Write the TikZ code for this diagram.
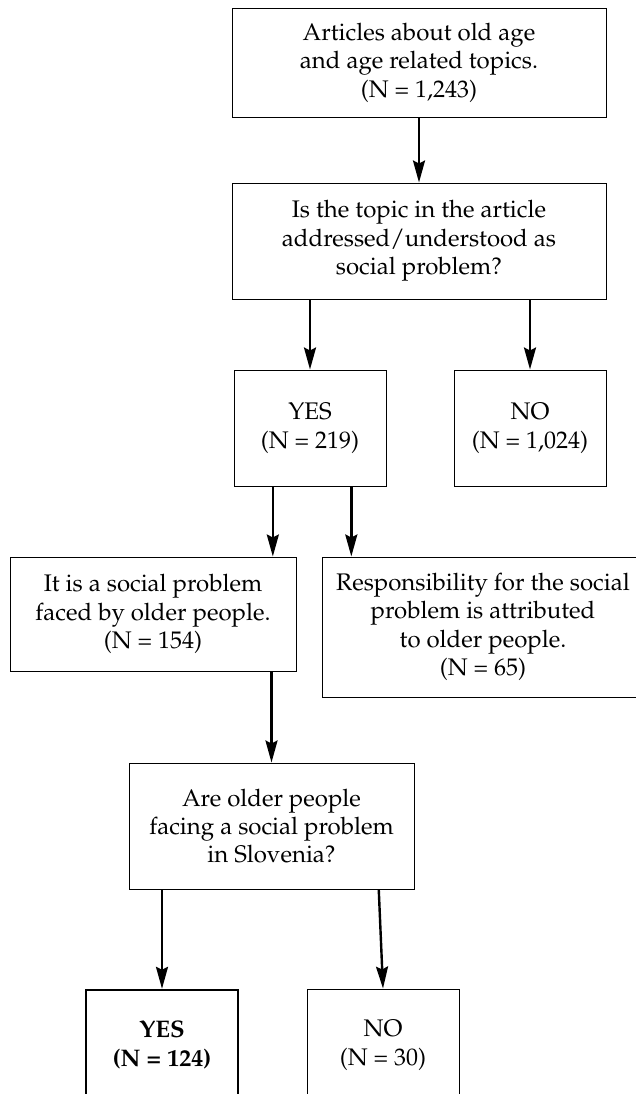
\documentclass[tikz,border=0pt]{standalone}
\usepackage[T1]{fontenc}
\usepackage{mathpazo}
\usetikzlibrary{arrows.meta,calc}
\begin{document}
\begin{tikzpicture}[x=0.5pt,y=-0.5pt,
  box/.style={draw,line width=0.5pt,align=center,inner sep=0pt,font=\fontsize{12}{14.2}\selectfont},
  small/.style={box,minimum width=76pt,minimum height=58pt},
  arr/.style={line width=1.2pt,-{Stealth[length=11pt,width=6pt,inset=1.5pt]}}]
\useasboundingbox (0,0) rectangle (636,1094);
\clip (0,0) rectangle (636,1094);
\node[box,minimum width=187pt,minimum height=54.5pt] (articles) at (419,62.5) {Articles about old age\\and age related topics.\\(N = 1,243)};
\node[box,minimum width=187pt,minimum height=58pt] (question) at (419,241) {Is the topic in the article\\addressed/understood as\\social problem?};
\node[small] (yes1) at (310,428) {YES\\(N = 219)};
\node[small] (no1) at (530,428) {NO\\(N = 1,024)};
\node[box,minimum width=143pt,minimum height=57pt] (faced) at (153,614) {It is a social problem\\faced by older people.\\(N = 154)};
\node[box,minimum width=161pt,minimum height=70pt] (resp) at (483,627) {Responsibility for the social\\problem is attributed\\to older people.\\(N = 65)};
\node[box,minimum width=142.5pt,minimum height=63pt] (slovenia) at (271.5,826) {Are older people\\facing a social problem\\in Slovenia?};
\node[small,line width=1.2pt,minimum height=55pt,font=\fontsize{12}{14.2}\selectfont\bfseries] (yes2) at (162,1045) {YES\\(N = 124)};
\node[small,minimum height=56pt] (no2) at (383,1045) {NO\\(N = 30)};
% arrows
\draw[arr] (articles.south) -- (question.north);
\draw[arr] (question.south -| yes1.north) -- (yes1.north);
\draw[arr] (question.south -| no1.north) -- (no1.north);
\coordinate (y1l) at ($(yes1.south west)!0.257!(yes1.south east)$);
\coordinate (y1r) at ($(yes1.south west)!0.77!(yes1.south east)$);
\draw[arr] (y1l) -- (y1l |- faced.north);
\draw[arr] (y1r) -- (y1r |- resp.north);
\draw[arr] (slovenia.north |- faced.south) -- (slovenia.north);
\draw[arr] (yes2.north |- slovenia.south) -- (yes2.north);
\coordinate (slr) at ($(slovenia.south west)!0.875!(slovenia.south east)$);
\draw[arr] (slr) -- (no2.north);
\end{tikzpicture}
\end{document}
